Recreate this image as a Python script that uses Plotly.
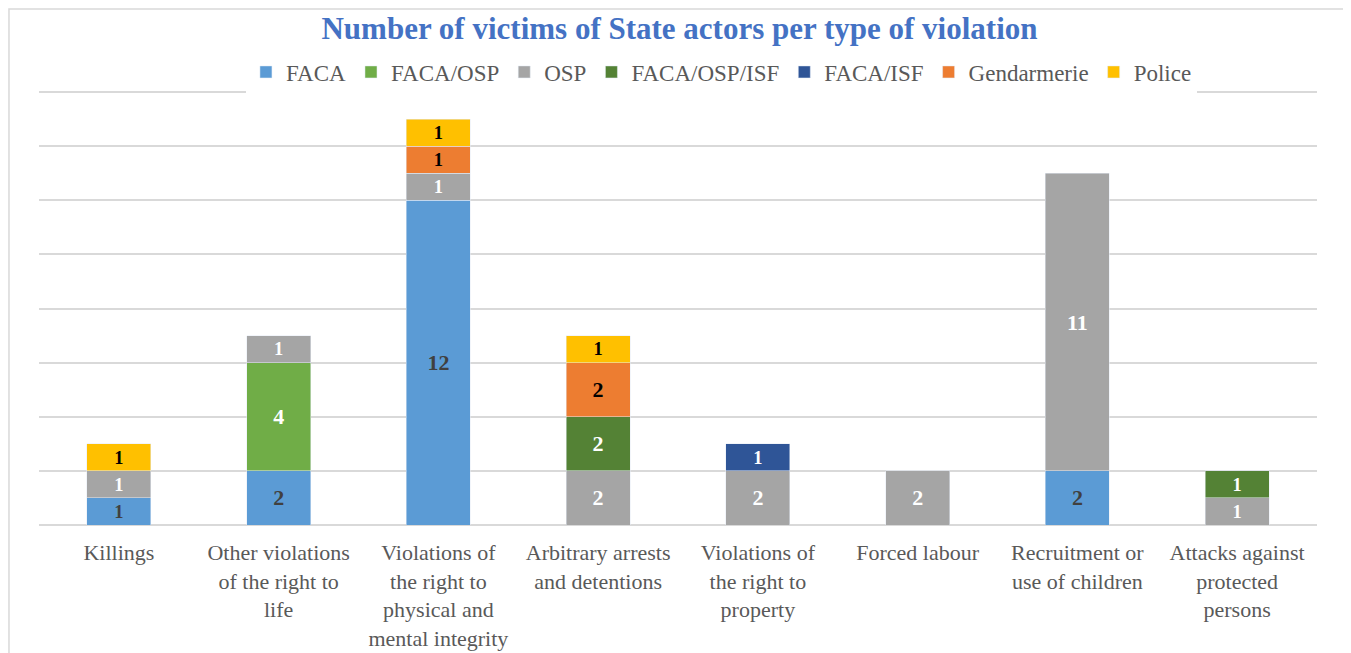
import plotly.graph_objects as go

categories = [
    "Killings",
    "Other violations<br>of the right to<br>life",
    "Violations of<br>the right to<br>physical and<br>mental integrity",
    "Arbitrary arrests<br>and detentions",
    "Violations of<br>the right to<br>property",
    "Forced labour",
    "Recruitment or<br>use of children",
    "Attacks against<br>protected<br>persons",
]

faca = [1, 2, 12, None, None, None, 2, None]
faca_osp = [None, 4, None, None, None, None, None, None]
osp = [1, 1, 1, 2, 2, 2, 11, 1]
faca_osp_isf = [None, None, None, 2, None, None, None, 1]
faca_isf = [None, None, None, None, 1, None, None, None]
gendarmerie = [None, None, 1, 2, None, None, None, None]
police = [1, None, 1, 1, None, None, None, None]

SERIF = "Liberation Serif, Times New Roman, serif"

# name, values, bar colour, label colour
series = [
    ("FACA", faca, "#5B9BD5", "#404040"),
    ("FACA/OSP", faca_osp, "#70AD47", "#FFFFFF"),
    ("OSP", osp, "#A5A5A5", "#FFFFFF"),
    ("FACA/OSP/ISF", faca_osp_isf, "#548235", "#FFFFFF"),
    ("FACA/ISF", faca_isf, "#2F5597", "#FFFFFF"),
    ("Gendarmerie", gendarmerie, "#ED7D31", "#000000"),
    ("Police", police, "#FFC000", "#000000"),
]

fig = go.Figure()
for name, vals, col, tcol in series:
    fig.add_trace(go.Bar(
        x=categories,
        y=vals,
        name=name,
        marker_color=col,
        text=[("" if v is None else "<b>%d</b>" % v) for v in vals],
        textposition="inside",
        insidetextanchor="middle",
        textangle=0,
        textfont=dict(family=SERIF, size=22, color=tcol),
    ))

fig.update_layout(
    barmode="stack",
    bargap=0.6,
    width=1343,
    height=645,
    margin=dict(l=31, r=34, t=82, b=128),
    paper_bgcolor="white",
    plot_bgcolor="white",
    font=dict(family=SERIF, size=22, color="#595959"),
    title=dict(
        text="<b>Number of victims of State actors per type of violation</b>",
        font=dict(family=SERIF, size=31, color="#4472C4"),
        x=0.5, xanchor="center", y=0.969, yanchor="middle",
    ),
    legend=dict(
        orientation="h",
        x=0.534, xanchor="center",
        y=1.0414, yanchor="middle",
        bgcolor="white",
        borderwidth=0,
        font=dict(family=SERIF, size=23, color="#595959"),
        traceorder="normal",
    ),
)

fig.update_xaxes(
    showgrid=False,
    ticks="",
    automargin=False,
    ticklabelstandoff=12,
    tickfont=dict(family=SERIF, size=22, color="#595959"),
)
fig.update_yaxes(
    range=[0, 16.08],
    dtick=2,
    showticklabels=False,
    automargin=False,
    gridcolor="#D9D9D9",
    gridwidth=1.5,
    zeroline=True,
    zerolinecolor="#D9D9D9",
    zerolinewidth=1.5,
)

# chart frame
fig.add_shape(
    type="rect", xref="paper", yref="paper",
    x0=-0.0235, x1=1.0243, y0=-0.32, y1=1.186,
    line=dict(color="#D9D9D9", width=1.5),
    fillcolor="rgba(0,0,0,0)",
    layer="below",
)

fig.write_html("out.html")
